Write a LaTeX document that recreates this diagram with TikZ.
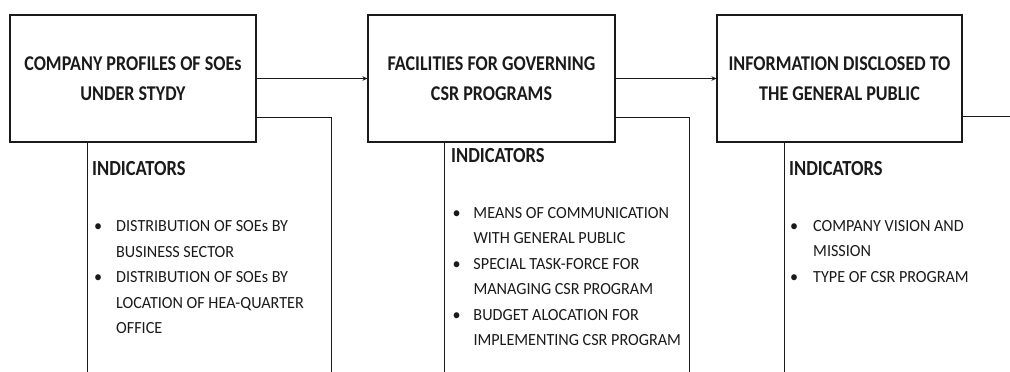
\documentclass[tikz,border=0pt]{standalone}
\usepackage{fontspec}
\setmainfont{Carlito}
\newfontfamily\titlefont[FakeStretch=0.86]{Carlito}
\newfontfamily\listfont[FakeStretch=0.95]{Carlito}
\usetikzlibrary{arrows.meta}
\definecolor{ink}{HTML}{1A1A1A}
\newcommand\blt[1]{\makebox[#1][l]{•}}
\tikzset{
  x=1pt, y=-1pt,
  titlebox/.style={draw=ink, line width=1.1pt, inner sep=0pt, align=center, text=ink,
    font=\titlefont\fontsize{21}{30.5}\selectfont\bfseries},
  frameline/.style={draw=ink, line width=1pt},
  flow/.style={frameline, -{Stealth[length=5pt,width=4.5pt]}},
  heading/.style={anchor=base west, inner sep=0pt, text=ink, font=\titlefont\fontsize{21.5}{21.5}\selectfont\bfseries},
  listtext/.style={anchor=base west, inner sep=0pt, text=ink}
}
\newcommand\ilist[1]{\listfont\fontsize{17}{25.5}\selectfont\begin{tabular}[t]{@{}l@{}}#1\end{tabular}}
\begin{document}
\begin{tikzpicture}
\useasboundingbox (0,0) rectangle (1010,372);
% main boxes
\node[titlebox, minimum width=246pt, minimum height=127pt] (b1) at (133,78.5) {COMPANY PROFILES OF SOEs\\UNDER STYDY};
\node[titlebox, minimum width=247pt, minimum height=127pt] (b2) at (491.5,78.5) {FACILITIES FOR GOVERNING\\CSR PROGRAMS};
\node[titlebox, minimum width=245pt, minimum height=127pt] (b3) at (839.5,78.5) {INFORMATION DISCLOSED TO\\THE GENERAL PUBLIC};
% flow arrows
\draw[flow] (b1) -- (b2);
\draw[flow] (b2) -- (b3);
\coordinate (out) at (1010,116);
\draw[frameline] (b3.east |- out) -- (out);
% indicator frames
\coordinate (f1tr) at (331,117);
\coordinate (f1br) at (331,372);
\coordinate (f1bl) at (87,372);
\draw[frameline] (b1.east |- f1tr) -- (f1tr) -- (f1br);
\draw[frameline] (b1.south -| f1bl) -- (f1bl);
\coordinate (f2tr) at (689,117);
\coordinate (f2br) at (689,372);
\coordinate (f2bl) at (444,372);
\draw[frameline] (b2.east |- f2tr) -- (f2tr) -- (f2br);
\draw[frameline] (b2.south -| f2bl) -- (f2bl);
\coordinate (f3bl) at (784,372);
\draw[frameline] (b3.south -| f3bl) -- (f3bl);
% headings
\node[heading] (h1) at (92,175) {INDICATORS};
\node[heading] (h2) at (451,162.5) {INDICATORS};
\node[heading] (h3) at (789,175.5) {INDICATORS};
% lists
\node[listtext] (l1) at (94,231.7) {\ilist{\blt{22pt}DISTRIBUTION OF SOEs BY\\\hspace*{22pt}BUSINESS SECTOR\\\blt{22pt}DISTRIBUTION OF SOEs BY\\\hspace*{22pt}LOCATION OF HEA-QUARTER\\\hspace*{22pt}OFFICE}};
\node[listtext] (l2) at (452.5,218.3) {\ilist{\blt{20.8pt}MEANS OF COMMUNICATION\\\hspace*{20.8pt}WITH GENERAL PUBLIC\\\blt{20.8pt}SPECIAL TASK-FORCE FOR\\\hspace*{20.8pt}MANAGING CSR PROGRAM\\\blt{20.8pt}BUDGET ALOCATION FOR\\\hspace*{20.8pt}IMPLEMENTING CSR PROGRAM}};
\node[listtext] (l3) at (790,231) {\ilist{\blt{23pt}COMPANY VISION AND\\\hspace*{23pt}MISSION\\\blt{23pt}TYPE OF CSR PROGRAM}};
\end{tikzpicture}
\end{document}
